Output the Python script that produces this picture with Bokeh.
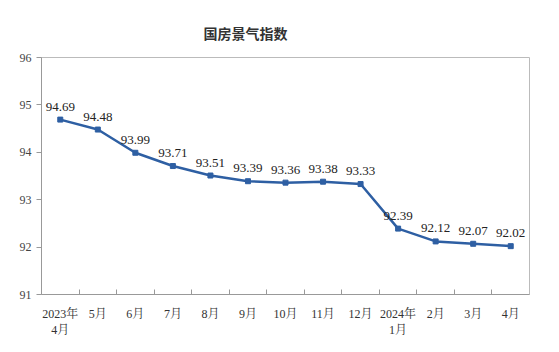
from bokeh.plotting import figure
from bokeh.models import FixedTicker, Range1d, ColumnDataSource
from bokeh.core.properties import value
from bokeh.embed import file_html
from bokeh.resources import INLINE

months = ["2023年\n4月", "5月", "6月", "7月", "8月", "9月", "10月", "11月", "12月",
          "2024年\n1月", "2月", "3月", "4月"]
index_values = [94.69, 94.48, 93.99, 93.71, 93.51, 93.39, 93.36, 93.38, 93.33,
                92.39, 92.12, 92.07, 92.02]
y_ticks = [91, 92, 93, 94, 95, 96]
title_text = "国房景气指数"

SERIF = "'Liberation Serif', 'Noto Serif CJK SC', 'Noto Sans CJK SC', serif"

xs = [i + 0.5 for i in range(len(months))]
src = ColumnDataSource(dict(x=xs, y=index_values, lab=[f"{v:.2f}" for v in index_values]))

p = figure(width=559, height=352, output_backend="svg", toolbar_location=None,
           x_range=Range1d(0, len(months)), y_range=Range1d(91, 96),
           min_border_left=41, min_border_right=30, min_border_top=57, min_border_bottom=58)

p.title.text = title_text
p.title.text_font = "'Noto Sans CJK SC', sans-serif"
p.title.text_font_size = "14px"
p.title.text_font_style = "bold"
p.title.text_color = "#333333"
p.title.align = "left"
p.title.offset = 162
p.title.standoff = 30

p.outline_line_color = "#bbbbbb"
p.grid.visible = False
p.background_fill_color = "white"
p.border_fill_color = "white"

p.xaxis.ticker = FixedTicker(ticks=xs, minor_ticks=list(range(1, len(months))))
p.xaxis.major_label_overrides = {x: m for x, m in zip(xs, months)}
p.xaxis.major_tick_line_color = None
p.xaxis.minor_tick_in = 5
p.xaxis.minor_tick_out = 0
p.xaxis.minor_tick_line_color = "#999999"
p.xaxis.axis_line_color = "#999999"
p.xaxis.major_label_text_font = SERIF
p.xaxis.major_label_text_font_size = "12px"
p.xaxis.major_label_text_color = "#333333"
p.xaxis.major_label_standoff = 6

p.yaxis.ticker = FixedTicker(ticks=y_ticks, minor_ticks=[])
p.yaxis.axis_line_color = "#999999"
p.yaxis.major_tick_line_color = "#999999"
p.yaxis.major_tick_in = 0
p.yaxis.major_tick_out = 5
p.yaxis.major_label_text_font = SERIF
p.yaxis.major_label_text_font_size = "12px"
p.yaxis.major_label_text_color = "#444444"
p.yaxis.major_label_standoff = 5

p.line("x", "y", source=src, line_color="#2e5fa3", line_width=2.5)
p.scatter("x", "y", source=src, marker="square", size=5, color="#2e5fa3")
p.text("x", "y", text="lab", source=src, text_align="center", text_baseline="bottom",
       y_offset=-9, text_font=value("Liberation Serif"), text_font_size="13px",
       text_color="#222222")

open("out.html", "w").write(file_html(p, INLINE))
